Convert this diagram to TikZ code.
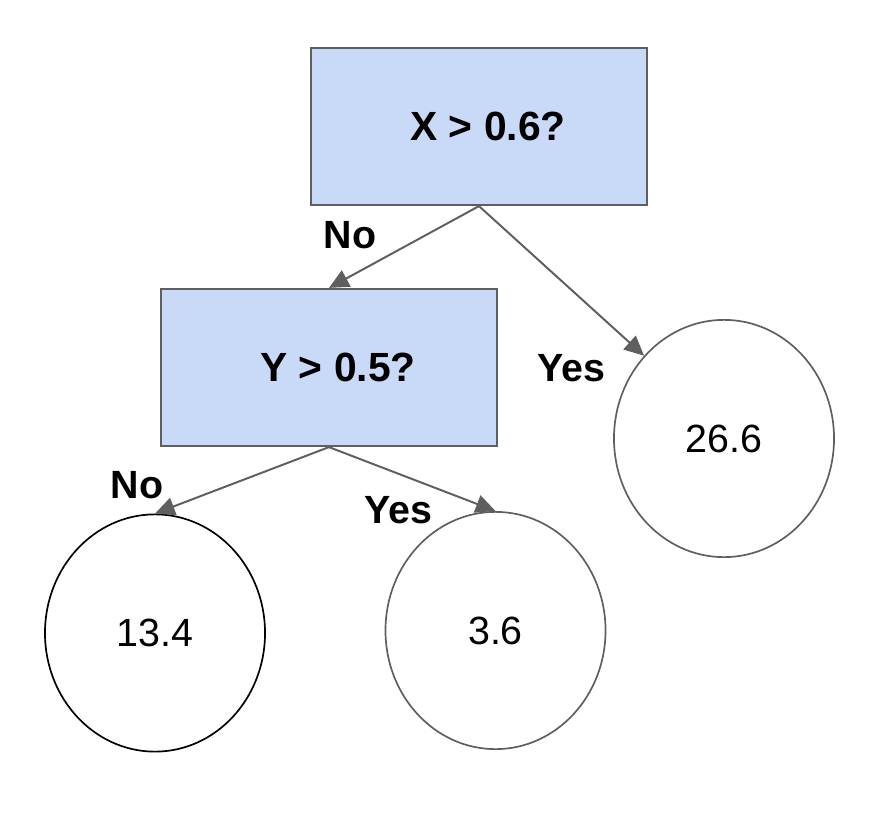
\documentclass[tikz,border=0pt]{standalone}
\usepackage{fontspec}
\setmainfont{Liberation Sans}
\usetikzlibrary{shapes.geometric, arrows.meta}
\definecolor{qfill}{HTML}{C9DAF8}
\definecolor{linegray}{HTML}{5F5F5F}

\begin{document}
\begin{tikzpicture}[x=0.025cm, y=-0.025cm, >={Triangle[length=14pt, width=13pt]},
    every node/.style={font=\fontsize{28}{34}\selectfont},
    question/.style={draw=linegray, line width=1.4pt, fill=qfill, minimum width=8.4cm,
        minimum height=3.93cm, font=\fontsize{29}{34}\selectfont\bfseries,
        execute at begin node=\hspace*{0.45cm}},
    leaf/.style={ellipse, draw=linegray, line width=1.2pt, minimum width=5.5cm,
        minimum height=5.93cm, inner sep=0pt},
    answer/.style={anchor=base, font=\fontsize{28}{34}\selectfont\bfseries},
    branch/.style={->, draw=linegray, line width=1.4pt}]

    \useasboundingbox (0,0) rectangle (874,816);

    % =================================================================
    % QUESTION BOXES
    % =================================================================
    \node[question] (rootq) at (479,126.5) {X > 0.6?};
    \node[question] (yq) at (329,367.5) {Y > 0.5?};

    % =================================================================
    % LEAVES
    % =================================================================
    \node[leaf] (leafhi) at (724,438.5) {26.6};
    \node[leaf, draw=black] (leafno) at (155,633) {13.4};
    \node[leaf] (leafyes) at (495.5,630.5) {3.6};

    % =================================================================
    % BRANCHES
    % =================================================================
    \draw[branch] (rootq.south) -- (yq.north);
    \draw[branch] (rootq.south) -- (leafhi.134);
    \draw[branch] (yq.south) -- (leafno.north);
    \draw[branch] (yq.south) -- (leafyes.north);

    % Branch labels
    \node[answer] (rootno) at (350,248) {No};
    \node[answer] (rootyes) at (571,381) {Yes};
    \node[answer] (yno) at (137,498) {No};
    \node[answer] (yyes) at (398,523) {Yes};

\end{tikzpicture}
\end{document}
